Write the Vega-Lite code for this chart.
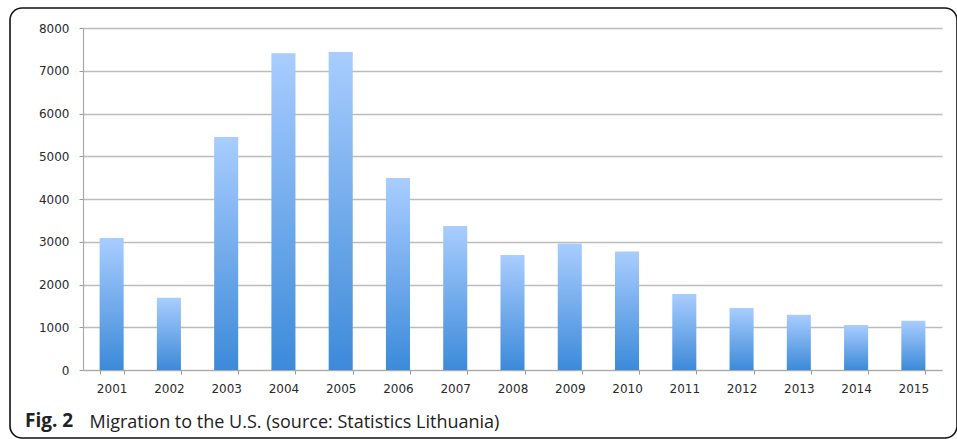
{
  "$schema": "https://vega.github.io/schema/vega-lite/v6.json",
  "autosize": "none",
  "width": 947,
  "height": 430,
  "padding": {"left": 10, "top": 8, "right": 0, "bottom": 1},
  "background": "white",
  "view": {"stroke": "#111111", "strokeWidth": 1.6, "cornerRadius": 12, "fill": "white"},
  "title": {
    "text": "Fig. 2",
    "orient": "bottom",
    "anchor": "start",
    "frame": "group",
    "offset": -11,
    "dx": 15,
    "baseline": "alphabetic",
    "font": "Open Sans",
    "fontSize": 19,
    "fontWeight": "bold",
    "color": "#222222"
  },
  "data": {
    "values": [
      {"year": "2001", "migrants": 3090},
      {"year": "2002", "migrants": 1690},
      {"year": "2003", "migrants": 5450},
      {"year": "2004", "migrants": 7410},
      {"year": "2005", "migrants": 7440},
      {"year": "2006", "migrants": 4490},
      {"year": "2007", "migrants": 3370},
      {"year": "2008", "migrants": 2690},
      {"year": "2009", "migrants": 2960},
      {"year": "2010", "migrants": 2770},
      {"year": "2011", "migrants": 1780},
      {"year": "2012", "migrants": 1450},
      {"year": "2013", "migrants": 1290},
      {"year": "2014", "migrants": 1050},
      {"year": "2015", "migrants": 1150}
    ]
  },
  "mark": {
    "type": "bar",
    "color": {
      "gradient": "linear",
      "x1": 0, "y1": 0, "x2": 0, "y2": 1,
      "stops": [
        {"offset": 0, "color": "#a9cdff"},
        {"offset": 1, "color": "#3c8ad9"}
      ]
    }
  },
  "encoding": {
    "x": {
      "field": "year",
      "type": "ordinal",
      "scale": {"range": [73, 932], "paddingInner": 0.58, "paddingOuter": 0.29},
      "axis": {
        "title": "Migration to the U.S. (source: Statistics Lithuania)",
        "offset": -68,
        "labelAngle": 0,
        "tickBand": "extent",
        "tickSize": 4,
        "tickColor": "#999999",
        "domainColor": "#aaaaaa",
        "domainWidth": 1.2,
        "labelFont": "DejaVu Sans",
        "labelFontSize": 12,
        "labelColor": "#2a2a2a",
        "labelPadding": 9,
        "grid": false,
        "titleFont": "Open Sans",
        "titleFontSize": 18,
        "titleFontWeight": "normal",
        "titleColor": "#222222",
        "titleAnchor": "start",
        "titleAlign": "left",
        "titleBaseline": "alphabetic",
        "titleX": 79,
        "titleY": 57
      }
    },
    "y": {
      "field": "migrants",
      "type": "quantitative",
      "scale": {"domain": [0, 8000], "range": [362, 20]},
      "axis": {
        "title": null,
        "offset": -73,
        "format": "d",
        "values": [0, 1000, 2000, 3000, 4000, 5000, 6000, 7000, 8000],
        "tickSize": 4,
        "tickColor": "#999999",
        "domainColor": "#aaaaaa",
        "domainWidth": 1.2,
        "grid": true,
        "gridColor": "#bcbcbc",
        "gridWidth": 1.5,
        "labelFont": "DejaVu Sans",
        "labelFontSize": 12,
        "labelColor": "#2a2a2a",
        "labelPadding": 10
      }
    }
  }
}
